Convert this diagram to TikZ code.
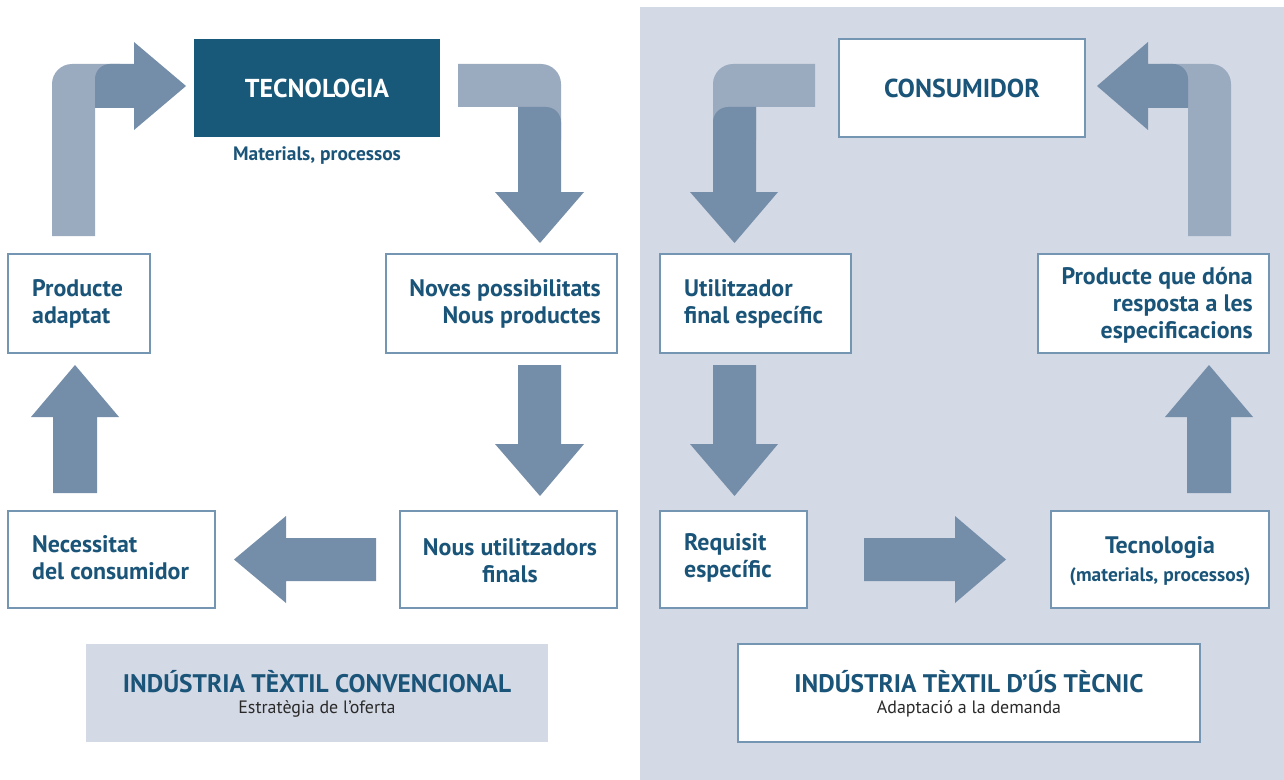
\documentclass[tikz,border=0pt]{standalone}
\usepackage{fontspec}
\setmainfont{PT Sans}
\definecolor{darkbox}{HTML}{185878}
\definecolor{txtblue}{HTML}{1A5478}
\definecolor{arrdark}{HTML}{748DA8}
\definecolor{arrlight}{HTML}{9AAABF}
\definecolor{panel}{HTML}{D3D9E5}
\definecolor{boxline}{HTML}{7596B2}
\definecolor{subgray}{HTML}{2A2A2A}
\tikzset{
  stagebox/.style={draw=boxline, line width=1.3pt, fill=white, inner sep=0pt},
  stagetext/.style={text=txtblue, font=\fontsize{24}{27}\selectfont\bfseries, inner sep=0pt},
  smalltext/.style={text=txtblue, font=\fontsize{19.5}{22}\selectfont\bfseries, inner sep=0pt},
  bigtext/.style={font=\fontsize{26}{30}\selectfont\bfseries, inner sep=0pt},
  titletext/.style={text=txtblue, font=\fontsize{25.5}{28}\selectfont\bfseries, inner sep=0pt},
  subtext/.style={text=subgray, font=\fontsize{18}{20}\selectfont, inner sep=0pt},
  darkarrow/.style={fill=arrdark, draw=none},
  lightarrow/.style={fill=arrlight, draw=none}
}
\begin{document}
\begin{tikzpicture}[x=1bp,y=-1bp]
\useasboundingbox (0,0) rectangle (1284,780);
\fill[white] (0,0) rectangle (1284,780);
% right panel background
\fill[panel] (640,7) rectangle (1284,780);

% ================= LEFT PANEL =================
\node[fill=darkbox, minimum width=246bp, minimum height=98bp, inner sep=0pt] (tec) at (317,88) {};
\node[bigtext, text=white] (tect) at (317,88) {TECNOLOGIA};
\node[smalltext] (mat) at (317,156) {Materials, processos};

\node[stagebox, minimum width=142bp, minimum height=99bp] (pa) at (79,303.5) {};
\node[stagetext, anchor=west, align=left] (pat) at (32,303.5) {Producte\\adaptat};

\node[stagebox, minimum width=231bp, minimum height=99bp] (np) at (501.5,303.5) {};
\node[stagetext, anchor=east, align=right] (npt) at (601,303.5) {Noves possibilitats\\Nous productes};

\node[stagebox, minimum width=217bp, minimum height=97bp] (nu) at (508.5,559.5) {};
\node[stagetext, align=center] (nut) at (510,561) {Nous utilitzadors\\finals};

\node[stagebox, minimum width=207bp, minimum height=97bp] (nc) at (111.5,559.5) {};
\node[stagetext, anchor=west, align=left] (nct) at (32,558) {Necessitat\\del consumidor};

\node[fill=panel, minimum width=462bp, minimum height=98bp, inner sep=0pt] (lab1) at (317,693) {};
\node[titletext] (lab1t) at (317,682) {INDÚSTRIA TÈXTIL CONVENCIONAL};
\node[subtext] (lab1s) at (317,709) {Estratègia de l’oferta};

% arrows left panel
% producte adaptat -> tecnologia
\path[lightarrow] (52,236) -- (52,84) .. controls (52,73) and (61,64) .. (72,64) -- (120,64) -- (120,108) -- (95,108) -- (95,236) -- cycle;
\path[darkarrow] (95,108) -- (95,79) .. controls (95,70.7) and (101.7,64) .. (110,64) -- (134,64) -- (134,42) -- (186,86) -- (134,130) -- (134,108) -- cycle;
% tecnologia -> noves possibilitats
\path[lightarrow] (458,64) -- (541,64) .. controls (552,64) and (561,73) .. (561,84) -- (561,140) -- (518,140) -- (518,107) -- (458,107) -- cycle;
\path[darkarrow] (518,107) -- (546,107) .. controls (554.3,107) and (561,113.7) .. (561,122) -- (561,192) -- (584,192) -- (540,243) -- (495,192) -- (518,192) -- cycle;
% noves -> nous utilitzadors
\path[darkarrow] (518,365) -- (561,365) -- (561,444) -- (584,444) -- (540,496) -- (495,444) -- (518,444) -- cycle;
% nous utilitzadors -> necessitat
\path[darkarrow] (376,538) -- (286,538) -- (286,516) -- (234,559.5) -- (286,603) -- (286,581) -- (376,581) -- cycle;
% necessitat -> producte adaptat
\path[darkarrow] (53,493) -- (53,417) -- (31,417) -- (75,365) -- (119,417) -- (97,417) -- (97,493) -- cycle;

% ================= RIGHT PANEL =================
\node[stagebox, minimum width=246bp, minimum height=98bp] (cons) at (962,88) {};
\node[bigtext, text=txtblue] (const) at (962,88) {CONSUMIDOR};

\node[stagebox, minimum width=191bp, minimum height=99bp] (ut) at (755.5,303.5) {};
\node[stagetext, anchor=west, align=left] (utt) at (684,303.5) {Utilitzador\\final específic};

\node[stagebox, minimum width=231bp, minimum height=99bp] (pq) at (1153.5,303.5) {};
\node[stagetext, anchor=east, align=right] (pqt) at (1253,305) {Producte que dóna\\resposta a les\\especificacions};

\node[stagebox, minimum width=147bp, minimum height=97bp] (rq) at (733.5,559.5) {};
\node[stagetext, anchor=west, align=left] (rqt) at (684,558) {Requisit\\específic};

\node[stagebox, minimum width=218bp, minimum height=97bp] (tc) at (1160,559.5) {};
\node[stagetext] (tct) at (1160,548) {Tecnologia};
\node[smalltext] (tcs) at (1160,577) {(materials, processos)};

\node[stagebox, minimum width=462bp, minimum height=98bp] (lab2) at (969,693) {};
\node[titletext] (lab2t) at (969,682) {INDÚSTRIA TÈXTIL D’ÚS TÈCNIC};
\node[subtext] (lab2s) at (969,709) {Adaptació a la demanda};

% arrows right panel
% consumidor -> utilitzador
\path[lightarrow] (815,64) -- (733,64) .. controls (722,64) and (713,73) .. (713,84) -- (713,140) -- (756,140) -- (756,107) -- (815,107) -- cycle;
\path[darkarrow] (756,107) -- (728,107) .. controls (719.7,107) and (713,113.7) .. (713,122) -- (713,192) -- (690,192) -- (734.5,243) -- (778,192) -- (756,192) -- cycle;
% utilitzador -> requisit
\path[darkarrow] (713,365) -- (756,365) -- (756,444) -- (778,444) -- (734.5,496) -- (690,444) -- (713,444) -- cycle;
% requisit -> tecnologia
\path[darkarrow] (864,538) -- (955,538) -- (955,516) -- (1006,559.5) -- (955,603) -- (955,581) -- (864,581) -- cycle;
% tecnologia -> producte que dona
\path[darkarrow] (1187,493) -- (1187,417) -- (1165,417) -- (1209,365) -- (1253,417) -- (1231,417) -- (1231,493) -- cycle;
% producte que dona -> consumidor
\path[lightarrow] (1231,236) -- (1231,84) .. controls (1231,73) and (1222,64) .. (1211,64) -- (1160,64) -- (1160,108) -- (1188,108) -- (1188,236) -- cycle;
\path[darkarrow] (1188,108) -- (1188,79) .. controls (1188,70.7) and (1181.3,64) .. (1173,64) -- (1148,64) -- (1148,42) -- (1097,86) -- (1148,130) -- (1148,108) -- cycle;
\end{tikzpicture}
\end{document}
